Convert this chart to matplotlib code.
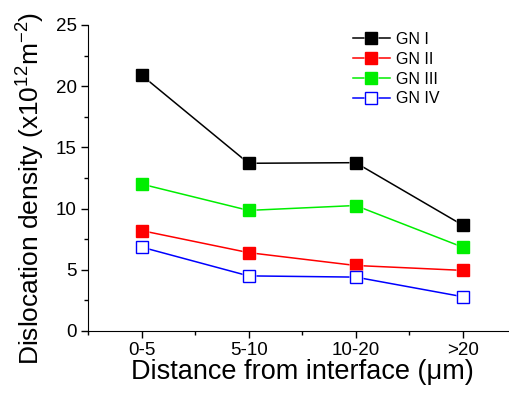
import numpy as np
import matplotlib
matplotlib.use("Agg")
import matplotlib.pyplot as plt
from matplotlib.ticker import MultipleLocator, FixedLocator
from matplotlib.legend_handler import HandlerTuple

plt.rcParams['font.family'] = ['Liberation Sans', 'DejaVu Sans']
plt.rcParams['mathtext.fontset'] = 'custom'
plt.rcParams['mathtext.rm'] = 'Liberation Sans'
plt.rcParams['mathtext.it'] = 'Liberation Sans:italic'

# data
categories = ['0-5', '5-10', '10-20', '>20']
gn1 = [20.9, 13.7, 13.75, 8.65]
gn2 = [8.2, 6.4, 5.35, 4.95]
gn3 = [12.0, 9.85, 10.25, 6.85]
gn4 = [6.85, 4.5, 4.4, 2.8]

series = [
    ('GN I', gn1, 'black', True),
    ('GN II', gn2, 'red', True),
    ('GN III', gn3, '#00ee00', True),
    ('GN IV', gn4, 'blue', False),
]

fig = plt.figure(figsize=(5.09, 3.94), dpi=100)
ax = fig.add_axes([0.173, 0.160, 0.841, 0.7766])

x = np.arange(1, len(categories) + 1)
handles, labels = [], []
for label, vals, color, filled in series:
    ln, = ax.plot(x, vals, '-', color=color, lw=1.1)
    # white rim gives the small gap between line and marker
    rim, = ax.plot(x, vals, ls='none', marker='s', ms=10.5, mfc='white', mec='none')
    mk, = ax.plot(x, vals, ls='none', marker='s', ms=8,
                  mfc=color if filled else 'white', mec=color, mew=1.0)
    handles.append((ln, rim, mk))
    labels.append(label)

ax.set_xlim(0.5, 4.5)
ax.set_ylim(0, 25)
ax.set_xticks(x)
ax.set_xticklabels(categories)
ax.xaxis.set_minor_locator(FixedLocator([0.5, 1.5, 2.5, 3.5]))
ax.yaxis.set_major_locator(MultipleLocator(5))
ax.yaxis.set_minor_locator(MultipleLocator(2.5))
ax.tick_params(which='major', direction='out', length=5, width=1, labelsize=13.5, pad=3)
ax.tick_params(which='minor', direction='out', length=3, width=1)
for s in ['top', 'right']:
    ax.spines[s].set_visible(False)

ax.set_xlabel('Distance from interface (μm)', fontsize=19.5, labelpad=0)
ax.set_ylabel('Dislocation density (x10$^{12}$m$^{-2}$)', fontsize=19, labelpad=2)
ax.yaxis.set_label_coords(-0.095, 0.465)

ax.legend(handles, labels, handler_map={tuple: HandlerTuple(ndivide=1)},
          loc='upper left', bbox_to_anchor=(353 / 509, 1 - 32 / 394),
          bbox_transform=fig.transFigure, frameon=False, borderpad=0,
          borderaxespad=0, fontsize=11.5, handlelength=2.3,
          handletextpad=0.4, labelspacing=0.3)

fig.savefig('out.png', dpi=100)
